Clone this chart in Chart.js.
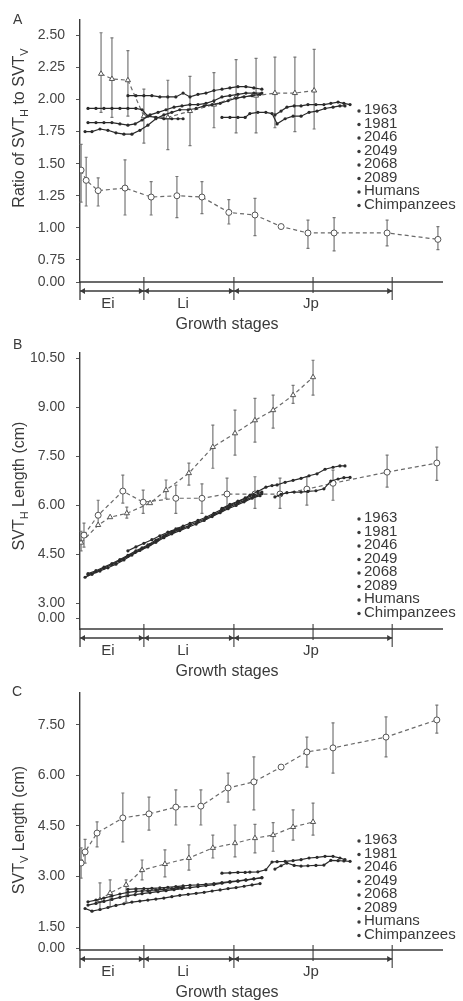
<!DOCTYPE html>
<html><head><meta charset="utf-8">
<script src="https://cdn.jsdelivr.net/npm/chart.js@4"></script>
<style>
html,body{margin:0;padding:0;background:#fff;width:463px;height:1001px;overflow:hidden}
.p{position:absolute;left:0;width:463px}
</style></head>
<body>
<div class="p" style="top:0;height:333px"><canvas id="cA"></canvas></div>
<div class="p" style="top:333px;height:350px"><canvas id="cB"></canvas></div>
<div class="p" style="top:666px;height:335px"><canvas id="cC"></canvas></div>
<script>
// ---------- labels ----------
const legendLabels = ['1963','1981','2046','2049','2068','2089','Humans','Chimpanzees'];
const stageNames = ['Ei','Li','Jp'];
const stageBounds = [0, 17.6, 42.4, 86.0];
const stageLabelAt = [7.7, 28.4, 63.6];
const stageMidTick = 64.2;
const ticksA = [0.75,1.00,1.25,1.50,1.75,2.00,2.25,2.50];
const ticksB = [3.00,4.50,6.00,7.50,9.00,10.50];
const ticksC = [1.50,3.00,4.50,6.00,7.50];

// ---------- individual chimpanzees: ages ----------
const age1963 = [2.2,4.4,6.6,8.8,11.0,13.2,15.4,17.1,18.7,20.9,23.1,25.3,27.0,28.4];
const age1981 = [2.2,4.4,6.6,8.8,11.0,13.2,15.2,17.1,19.3,21.5,23.7,25.9,28.1,30.3,32.5,34.7,36.9,39.1,41.3,43.5,45.7,47.9,50.1];
const age2046 = [13.2,15.4,17.6,19.8,22.0,24.2,26.4,28.4,30.3,32.5,34.7,36.9,39.1,41.3,43.5,45.7,47.9,50.1];
const age2049 = [1.4,3.3,5.5,7.7,9.9,12.1,14.3,16.5,18.7,20.9,23.1,25.3,27.5,29.8,32.0,34.2,36.4,38.6,40.8,43.0,45.2,47.4,49.6];
const age2068 = [39.1,41.3,43.5,45.5,46.8,49.0,51.2,52.9,54.3,56.5,58.7,60.9,63.1,65.3,67.5,69.7,71.6,73.0];
const age2089 = [53.7,55.4,57.0,59.0,60.9,62.8,65.0,67.2,69.1,71.1,72.7,74.4];

// ---------- Panel A: ratio SVTH / SVTV ----------
const ratio1963 = [1.93,1.93,1.93,1.93,1.93,1.93,1.93,1.92,1.87,1.86,1.85,1.85,1.85,1.85];
const ratio1981 = [1.82,1.82,1.82,1.82,1.81,1.80,1.81,1.84,1.88,1.90,1.92,1.94,1.95,1.96,1.96,1.97,1.99,2.02,2.03,2.04,2.05,2.05,2.05];
const ratio2046 = [2.03,2.03,2.03,2.03,2.02,2.02,2.02,2.05,2.02,2.04,2.05,2.07,2.08,2.09,2.10,2.10,2.09,2.08];
const ratio2049 = [1.75,1.75,1.77,1.76,1.74,1.73,1.73,1.76,1.80,1.85,1.88,1.90,1.92,1.92,1.93,1.95,1.96,1.97,1.99,2.01,2.02,2.03,2.04];
const ratio2068 = [1.86,1.86,1.86,1.86,1.89,1.90,1.90,1.89,1.81,1.85,1.87,1.87,1.90,1.91,1.93,1.94,1.95,1.95];
const ratio2089 = [1.88,1.91,1.94,1.95,1.95,1.96,1.96,1.96,1.97,1.98,1.97,1.96];
const ratioHumAge = [0.3,1.7,5.0,12.4,19.6,26.7,33.6,41.0,48.2,55.4,62.8,70.0,84.6,98.6];
const ratioHum    = [1.45,1.37,1.29,1.31,1.24,1.25,1.24,1.12,1.10,1.01,0.96,0.96,0.96,0.91];
const ratioHumLo  = [1.20,1.17,1.17,1.10,1.10,1.08,1.11,1.03,0.94,null,0.84,0.82,0.86,0.83];
const ratioHumHi  = [1.65,1.55,1.39,1.53,1.36,1.40,1.36,1.22,1.23,null,1.06,1.08,1.06,1.01];
const ratioChpAge = [5.8,8.8,13.2,17.6,24.2,30.3,36.9,43.0,48.5,53.7,59.2,64.5];
const ratioChp    = [2.20,2.16,2.15,1.87,1.86,1.91,1.96,2.02,2.03,2.05,2.05,2.07];
const ratioChpLo  = [1.90,1.86,1.87,1.66,1.61,1.64,1.78,1.74,1.74,1.78,1.75,1.77];
const ratioChpHi  = [2.52,2.48,2.38,2.08,2.15,2.18,2.21,2.31,2.32,2.33,2.33,2.39];

// ---------- Panel B: SVTH length (cm) ----------
const svth1963 = [3.90,3.99,4.10,4.21,4.33,4.46,4.60,4.69,4.78,4.93,5.06,5.19,5.27,5.33];
const svth1981 = [3.87,3.96,4.07,4.18,4.30,4.43,4.55,4.66,4.79,4.93,5.07,5.19,5.28,5.39,5.49,5.59,5.71,5.83,5.95,6.06,6.16,6.27,6.35];
const svth2046 = [4.60,4.72,4.83,4.94,5.06,5.17,5.27,5.36,5.44,5.53,5.63,5.75,5.87,5.99,6.10,6.21,6.31,6.40];
const svth2049 = [3.79,3.88,3.98,4.08,4.19,4.32,4.47,4.61,4.72,4.86,5.00,5.12,5.22,5.32,5.42,5.53,5.65,5.77,5.89,5.99,6.10,6.21,6.29];
const svth2068 = [5.90,6.02,6.12,6.22,6.30,6.42,6.55,6.60,6.62,6.70,6.76,6.82,6.90,6.96,7.10,7.16,7.20,7.20];
const svth2089 = [6.25,6.33,6.38,6.40,6.40,6.42,6.44,6.50,6.74,6.80,6.84,6.85];
const svthHumAge = [1.1,5.0,11.8,17.4,26.4,33.6,40.5,48.2,55.1,62.5,69.7,84.6,98.3];
const svthHum    = [5.08,5.69,6.43,6.09,6.21,6.21,6.34,6.34,6.34,6.49,6.67,7.01,7.29];
const svthHumLo  = [4.71,5.39,6.06,5.75,5.75,5.75,5.94,5.90,5.90,6.00,6.15,6.55,6.76];
const svthHumHi  = [5.45,6.15,6.92,6.46,6.61,6.65,6.83,6.87,6.83,6.86,7.07,7.53,7.78];
const svthChpAge = [0.3,5.0,8.3,12.9,19.3,23.7,30.0,36.6,42.7,48.2,53.2,58.7,64.2];
const svthChp    = [4.85,5.39,5.63,5.75,6.06,6.46,6.98,7.78,8.20,8.60,8.91,9.37,9.92];
const svthChpLo  = [4.60,null,null,5.60,null,6.21,6.61,7.13,7.53,7.93,8.36,9.12,9.37];
const svthChpHi  = [5.20,null,null,5.94,null,6.77,7.29,8.45,8.91,9.27,9.37,9.67,10.44];

// ---------- Panel C: SVTV length (cm) ----------
const svtv1963 = [2.25,2.30,2.36,2.42,2.48,2.53,2.56,2.57,2.58,2.60,2.62,2.64,2.66,2.68];
const svtv1981 = [2.15,2.20,2.26,2.32,2.38,2.43,2.46,2.49,2.52,2.55,2.58,2.61,2.64,2.67,2.70,2.73,2.76,2.80,2.83,2.86,2.89,2.93,2.97];
const svtv2046 = [2.62,2.63,2.64,2.65,2.66,2.68,2.70,2.72,2.74,2.75,2.77,2.79,2.82,2.85,2.87,2.90,2.93,2.96];
const svtv2049 = [2.05,1.97,2.02,2.08,2.14,2.19,2.24,2.27,2.30,2.33,2.36,2.40,2.44,2.47,2.50,2.53,2.57,2.60,2.64,2.67,2.71,2.75,2.79];
const svtv2068 = [3.10,3.11,3.12,3.12,3.13,3.14,3.20,3.43,3.44,3.45,3.47,3.50,3.55,3.57,3.60,3.60,3.55,3.50];
const svtv2089 = [3.22,3.32,3.40,3.33,3.31,3.32,3.33,3.34,3.48,3.47,3.46,3.45];
const svtvHumAge = [0.3,1.4,4.7,11.8,19.0,26.4,33.3,40.8,47.9,55.4,62.5,69.7,84.3,98.3];
const svtvHum    = [3.40,3.73,4.29,4.74,4.86,5.06,5.09,5.63,5.81,6.25,6.70,6.82,7.14,7.65];
const svtvHumLo  = [2.95,3.40,3.88,4.03,4.38,4.53,4.53,5.21,4.98,null,6.25,6.07,6.55,7.26];
const svtvHumHi  = [3.85,4.10,4.62,5.48,5.36,5.57,5.57,6.07,6.55,null,7.14,7.56,7.74,8.09];
const svtvChpAge = [5.5,8.3,12.7,17.1,23.4,30.0,36.6,42.7,48.2,53.2,58.7,64.2];
const svtvChp    = [2.30,2.51,2.75,3.19,3.37,3.55,3.85,3.99,4.14,4.23,4.47,4.62];
const svtvChpLo  = [2.01,2.10,2.24,2.90,2.99,3.19,3.55,3.58,3.70,3.75,4.08,4.23];
const svtvChpHi  = [2.81,2.90,2.90,3.49,3.79,3.94,4.23,4.53,4.55,4.60,4.98,5.18];

// ---------- drawing ----------
const FONT = '"Liberation Sans", Arial, Helvetica, sans-serif';
const INK = '#3a3a3a';

function pts(xs, ys){ return xs.map((v,i)=>({x:v, y:ys[i]})); }
function indiv(label, xs, ys){
  return {label, data:pts(xs,ys), showLine:true, borderColor:'#2a2a2a', backgroundColor:'#2a2a2a',
    borderWidth:1.2, pointRadius:1.6, pointBorderWidth:0, pointBackgroundColor:'#2a2a2a', pointStyle:'circle'};
}
function group(label, xs, ys, lo, hi, style){
  return {label, data:pts(xs,ys), errLo:lo, errHi:hi, showLine:true, borderColor:'#6a6a6a',
    borderWidth:1.2, borderDash:[4,3], pointStyle:style, pointRadius:3, pointBackgroundColor:'#fff',
    pointBorderColor:'#555', pointBorderWidth:1};
}

const decor = {
  id:'decor',
  beforeDatasetsDraw(chart){
    const {ctx, scales:{x,y}} = chart;
    ctx.save();
    ctx.strokeStyle = '#777'; ctx.lineWidth = 1.2;
    chart.data.datasets.forEach(ds=>{
      if(!ds.errLo) return;
      ds.data.forEach((p,i)=>{
        const lo = ds.errLo[i], hi = ds.errHi[i];
        if(lo==null || hi==null) return;
        const px = x.getPixelForValue(p.x), y1 = y.getPixelForValue(lo), y2 = y.getPixelForValue(hi);
        ctx.beginPath();
        ctx.moveTo(px,y1); ctx.lineTo(px,y2);
        ctx.moveTo(px-1.5,y1); ctx.lineTo(px+1.5,y1);
        ctx.moveTo(px-1.5,y2); ctx.lineTo(px+1.5,y2);
        ctx.stroke();
      });
    });
    ctx.restore();
  },
  afterDraw(chart, args, o){
    const {ctx, chartArea:ca, scales:{x}} = chart;
    ctx.save();
    ctx.strokeStyle = INK; ctx.fillStyle = INK; ctx.lineWidth = 1.3;
    const base = ca.bottom, sY = base + 9;
    ctx.beginPath(); ctx.moveTo(ca.left, base); ctx.lineTo(ca.right, base); ctx.stroke();
    ctx.beginPath(); ctx.moveTo(ca.left, base); ctx.lineTo(ca.left, sY + 9); ctx.stroke();
    const xs = stageBounds.map(v=>x.getPixelForValue(v));
    ctx.beginPath(); ctx.moveTo(xs[0], sY); ctx.lineTo(xs[xs.length-1], sY); ctx.stroke();
    ctx.lineWidth = 1.1;
    xs.slice(1).forEach(px=>{ ctx.beginPath(); ctx.moveTo(px, base-5); ctx.lineTo(px, sY+9); ctx.stroke(); });
    const mt = x.getPixelForValue(stageMidTick);
    ctx.beginPath(); ctx.moveTo(mt, base-5); ctx.lineTo(mt, sY+2); ctx.stroke();
    function arrow(tip, dir){
      ctx.beginPath(); ctx.moveTo(tip, sY); ctx.lineTo(tip+dir*5, sY-3); ctx.lineTo(tip+dir*5, sY+3); ctx.closePath(); ctx.fill();
    }
    xs.forEach((px,i)=>{ if(i>0) arrow(px, -1); if(i<xs.length-1) arrow(px, 1); });
    ctx.font = '15px ' + FONT; ctx.textAlign='center'; ctx.textBaseline='middle';
    stageNames.forEach((n,i)=> ctx.fillText(n, x.getPixelForValue(stageLabelAt[i]), base + 22));
    ctx.font = '16px ' + FONT;
    ctx.fillText('Growth stages', x.getPixelForValue(40.5), base + 43);
    ctx.font = '14px ' + FONT; ctx.textAlign='left';
    ctx.fillText(o.letter, o.letterX, o.letterY);
    ctx.translate(20, o.titleY); ctx.rotate(-Math.PI/2);
    const big = '16px ' + FONT, small = '11px ' + FONT;
    let w = 0;
    o.title.forEach(part=>{ ctx.font = part.sub ? small : big; w += ctx.measureText(part.t).width; });
    let cx = -w/2;
    ctx.textAlign='left'; ctx.textBaseline='middle';
    o.title.forEach(part=>{
      ctx.font = part.sub ? small : big;
      ctx.fillText(part.t, cx, part.sub ? 5 : 0);
      cx += ctx.measureText(part.t).width;
    });
    ctx.setTransform(1,0,0,1,0,0);
    ctx.font = '15px ' + FONT; ctx.textAlign='left'; ctx.textBaseline='middle'; ctx.fillStyle = INK;
    legendLabels.forEach((lab,i)=>{
      const ly = o.legendTop + i*13.5;
      ctx.beginPath(); ctx.arc(359, ly+1, 1.7, 0, Math.PI*2); ctx.fill();
      ctx.fillText(lab, 364, ly);
    });
    ctx.restore();
  }
};

function makeChart(id, datasets, spec){
  return new Chart(document.getElementById(id), {
    type:'scatter',
    data:{datasets},
    options:{
      responsive:true, maintainAspectRatio:false, animation:false, devicePixelRatio:1,
      layout:{padding:{top:spec.padTop, bottom:spec.padBottom, left:0, right:20}},
      scales:{
        x:{type:'linear', min:0, max:100, display:false},
        y:{type:'linear', min:spec.min, max:spec.max,
          afterFit(s){ s.width = 80; },
          afterBuildTicks(s){ s.ticks = [spec.zero, ...spec.ticks].map(v=>({value:v})); },
          ticks:{ callback:(v)=> Math.abs(v-spec.zero)<1e-6 ? '0.00' : Number(v).toFixed(2),
            font:{family:FONT, size:14}, color:'#444', padding:11, autoSkip:false },
          grid:{display:true, drawOnChartArea:false, drawTicks:true, tickLength:4, color:'#555'},
          border:{display:true, color:'#3a3a3a', width:1.4}
        }
      },
      plugins:{legend:{display:false}, tooltip:{enabled:false}, decor:spec}
    },
    plugins:[decor]
  });
}

makeChart('cA', [
  indiv('1963', age1963, ratio1963), indiv('1981', age1981, ratio1981), indiv('2046', age2046, ratio2046),
  indiv('2049', age2049, ratio2049), indiv('2068', age2068, ratio2068), indiv('2089', age2089, ratio2089),
  group('Humans', ratioHumAge, ratioHum, ratioHumLo, ratioHumHi, 'circle'),
  group('Chimpanzees', ratioChpAge, ratioChp, ratioChpLo, ratioChpHi, 'triangle')
], {padTop:18, padBottom:51, min:0.578, max:2.624, zero:0.578, ticks:ticksA,
    letter:'A', letterX:13, letterY:20, titleY:128, legendTop:110,
    title:[{t:'Ratio of SVT'},{t:'H',sub:true},{t:' to SVT'},{t:'V',sub:true}]});

makeChart('cB', [
  indiv('1963', age1963, svth1963), indiv('1981', age1981, svth1981), indiv('2046', age2046, svth2046),
  indiv('2049', age2049, svth2049), indiv('2068', age2068, svth2068), indiv('2089', age2089, svth2089),
  group('Humans', svthHumAge, svthHum, svthHumLo, svthHumHi, 'circle'),
  group('Chimpanzees', svthChpAge, svthChp, svthChpLo, svthChpHi, 'triangle')
], {padTop:19, padBottom:54, min:2.204, max:10.68, zero:2.54, ticks:ticksB,
    letter:'B', letterX:13, letterY:12, titleY:153, legendTop:185,
    title:[{t:'SVT'},{t:'H',sub:true},{t:' Length (cm)'}]});

makeChart('cC', [
  indiv('1963', age1963, svtv1963), indiv('1981', age1981, svtv1981), indiv('2046', age2046, svtv2046),
  indiv('2049', age2049, svtv2049), indiv('2068', age2068, svtv2068), indiv('2089', age2089, svtv2089),
  group('Humans', svtvHumAge, svtvHum, svtvHumLo, svtvHumHi, 'circle'),
  group('Chimpanzees', svtvChpAge, svtvChp, svtvChpLo, svtvChpHi, 'triangle')
], {padTop:27, padBottom:51, min:0.817, max:8.45, zero:0.876, ticks:ticksC,
    letter:'C', letterX:12, letterY:26, titleY:164, legendTop:174,
    title:[{t:'SVT'},{t:'V',sub:true},{t:' Length (cm)'}]});
</script>
</body></html>
